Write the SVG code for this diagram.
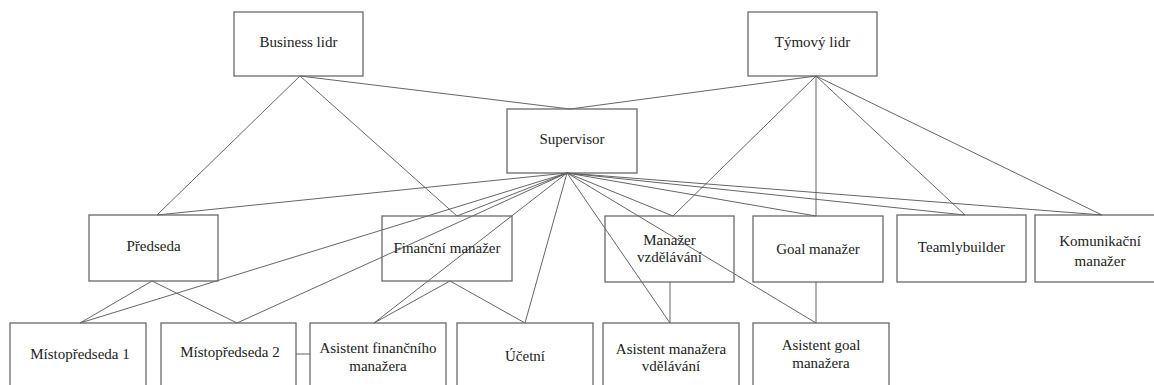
<svg xmlns="http://www.w3.org/2000/svg" width="1154" height="385" viewBox="0 0 1154 385" font-family="Liberation Serif, DejaVu Serif, serif">
<style>
.box{fill:none;stroke:#6a6a6a;stroke-width:1.3}
text{font-size:15px;fill:#222;text-anchor:middle;dominant-baseline:central}
.c line{stroke:#555;stroke-width:0.9}
</style>
<rect width="1154" height="385" fill="#fff"/>
<g id="connectors" class="c">
<line x1="300" y1="76" x2="157" y2="215"/>
<line x1="300" y1="76" x2="457" y2="216"/>
<line x1="300" y1="76" x2="570" y2="109"/>
<line x1="816" y1="76" x2="570" y2="109"/>
<line x1="816" y1="76" x2="673" y2="216"/>
<line x1="816" y1="76" x2="816" y2="216"/>
<line x1="816" y1="76" x2="965" y2="215"/>
<line x1="816" y1="76" x2="1102" y2="215"/>
<line x1="567" y1="173" x2="157" y2="215"/>
<line x1="567" y1="173" x2="457" y2="216"/>
<line x1="567" y1="173" x2="673" y2="216"/>
<line x1="567" y1="173" x2="816" y2="216"/>
<line x1="567" y1="173" x2="965" y2="215"/>
<line x1="567" y1="173" x2="1102" y2="215"/>
<line x1="567" y1="173" x2="80" y2="323"/>
<line x1="567" y1="173" x2="237" y2="323"/>
<line x1="567" y1="173" x2="374" y2="323"/>
<line x1="567" y1="173" x2="525" y2="323"/>
<line x1="567" y1="173" x2="670" y2="323"/>
<line x1="567" y1="173" x2="816" y2="323"/>
<line x1="152" y1="281" x2="80" y2="323"/>
<line x1="152" y1="281" x2="237" y2="323"/>
<line x1="450" y1="281" x2="374" y2="323"/>
<line x1="450" y1="281" x2="525" y2="323"/>
<line x1="670" y1="282" x2="670" y2="323"/>
<line x1="816" y1="282" x2="816" y2="323"/>
<line x1="296" y1="354" x2="310" y2="354"/>
</g>
<g id="business-lidr"><rect class="box" x="234" y="12" width="129" height="64"/><text x="298.5" y="42">Business lidr</text></g>
<g id="tymovy-lidr"><rect class="box" x="748" y="12" width="129" height="64"/><text x="812.5" y="42">Týmový lidr</text></g>
<g id="supervisor"><rect class="box" x="507" y="109" width="130" height="64"/><text x="572" y="139">Supervisor</text></g>
<g id="predseda"><rect class="box" x="89" y="215" width="129" height="66"/><text x="153.5" y="246">Předseda</text></g>
<g id="financni-manazer"><rect class="box" x="382" y="216" width="130" height="65"/><text x="447" y="248">Finanční manažer</text></g>
<g id="manazer-vzdelavani"><rect class="box" x="605" y="216" width="129" height="66"/><text x="669.5" y="240">Manažer</text><text x="669.5" y="257">vzdělávání</text></g>
<g id="goal-manazer"><rect class="box" x="753" y="216" width="130" height="66"/><text x="818" y="249">Goal manažer</text></g>
<g id="teamlybuilder"><rect class="box" x="897" y="215" width="129" height="67"/><text x="961.5" y="247">Teamlybuilder</text></g>
<g id="komunikacni-manazer"><rect class="box" x="1035" y="215" width="129" height="67"/><text x="1100" y="241">Komunikační</text><text x="1100" y="261">manažer</text></g>
<g id="mistopredseda-1"><rect class="box" x="10" y="323" width="136" height="80"/><text x="80" y="354">Místopředseda 1</text></g>
<g id="mistopredseda-2"><rect class="box" x="161" y="323" width="135" height="80"/><text x="230" y="352">Místopředseda 2</text></g>
<g id="asistent-financniho"><rect class="box" x="310" y="323" width="136" height="80"/><text x="378" y="348">Asistent finančního</text><text x="378" y="366">manažera</text></g>
<g id="ucetni"><rect class="box" x="457" y="323" width="136" height="80"/><text x="525" y="356">Účetní</text></g>
<g id="asistent-vzdelavani"><rect class="box" x="603" y="323" width="136" height="80"/><text x="671" y="349">Asistent manažera</text><text x="671" y="366">vdělávání</text></g>
<g id="asistent-goal"><rect class="box" x="753" y="323" width="136" height="80"/><text x="821" y="345">Asistent goal</text><text x="821" y="363">manažera</text></g>
</svg>
